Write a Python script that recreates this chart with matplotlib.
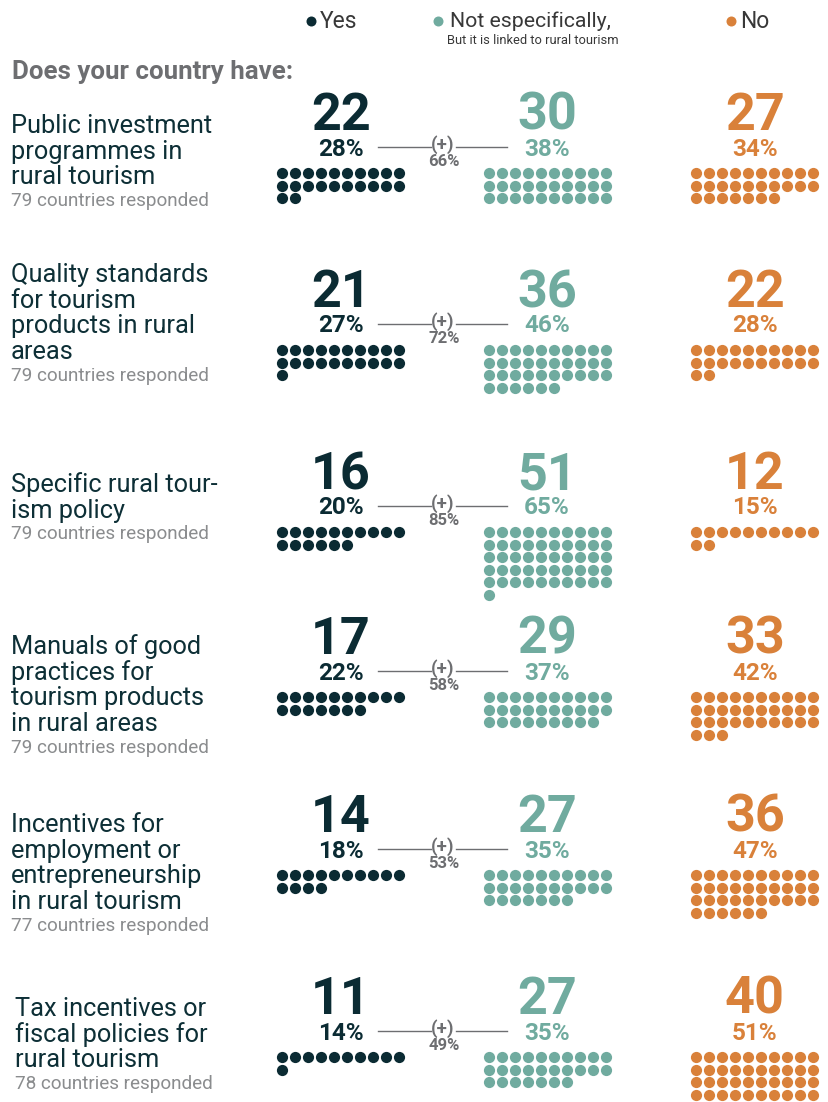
import matplotlib.pyplot as plt

plt.rcParams['font.family'] = ['Roboto', 'DejaVu Sans']

# survey answers, one entry per question
questions = [
    ["Public investment", "programmes in", "rural tourism"],
    ["Quality standards", "for tourism", "products in rural", "areas"],
    ["Specific rural tour-", "ism policy"],
    ["Manuals of good", "practices for", "tourism products", "in rural areas"],
    ["Incentives for", "employment or", "entrepreneurship", "in rural tourism"],
    ["Tax incentives or", "fiscal policies for", "rural tourism"],
]
responded = [79, 79, 79, 79, 77, 78]
yes_counts = [22, 21, 16, 17, 14, 11]
not_counts = [30, 36, 51, 29, 27, 27]
no_counts = [27, 22, 12, 33, 36, 40]
yes_pct = [28, 27, 20, 22, 18, 14]
not_pct = [38, 46, 65, 37, 35, 35]
no_pct = [34, 28, 15, 42, 47, 51]
combined_pct = [66, 72, 85, 58, 53, 49]

# colours
c_yes = '#0b2b33'
c_not = '#70ab9f'
c_no = '#d9813a'
c_grey = '#6d6e71'
c_light = '#8a8c8e'
c_label = '#0d2f36'

# layout (pixel space)
row_base = [130, 307, 489, 654, 832, 1014]   # baseline of the big numbers
label_first = [126, 275, 485, 647, 825, 1009]  # centre of first label line
label_x = [11, 11, 11, 11, 11, 15]
num_x = [341, 547, 755]
dot_x0 = [282.5, 489, 696.5]
dot_dx = 13.0
dot_dy = 12.6
dot_size = (11.2 * 0.72) ** 2

fig = plt.figure(figsize=(8.29, 11.02), dpi=100)
ax = fig.add_axes([0, 0, 1, 1])
ax.set_xlim(0, 829)
ax.set_ylim(1102, 0)
ax.axis('off')

# header / legend
legend_items = [(311, 320, 'Yes', c_yes, 16.5), (438, 450, 'Not especifically,', c_not, 15.3),
                (731, 740, 'No', c_no, 16.5)]
for bx, tx, txt, col, fs in legend_items:
    ax.scatter([bx], [20.5], s=(10 * 0.72) ** 2, color=col, linewidths=0)
    ax.text(tx, 21, txt, color='#383838', fontsize=fs, ha='left', va='center')
ax.text(447, 40, 'But it is linked to rural tourism', color='#383838', fontsize=9.3,
        ha='left', va='center')
ax.text(12, 71.5, 'Does your country have:', color=c_grey, fontsize=18.6,
        fontweight='bold', ha='left', va='center')

for i in range(len(questions)):
    base = row_base[i]
    # question label
    for j, line in enumerate(questions[i]):
        ax.text(label_x[i], label_first[i] + j * 25.7, line, color=c_label, fontsize=18.3,
                ha='left', va='center')
    ax.text(label_x[i], label_first[i] + len(questions[i]) * 25.7 - 2,
            f'{responded[i]} countries responded', color=c_light, fontsize=13.6,
            ha='left', va='center')

    counts = [yes_counts[i], not_counts[i], no_counts[i]]
    pcts = [yes_pct[i], not_pct[i], no_pct[i]]
    for k, col in enumerate([c_yes, c_not, c_no]):
        ax.text(num_x[k], base, str(counts[k]), color=col, fontsize=37.5,
                fontweight='bold', ha='center', va='baseline')
        ax.text(num_x[k], base + 19, f'{pcts[k]}%', color=col, fontsize=17.5,
                fontweight='bold', ha='center', va='center')
        xs = [dot_x0[k] + (n % 10) * dot_dx for n in range(counts[k])]
        ys = [base + 43 + (n // 10) * dot_dy for n in range(counts[k])]
        ax.scatter(xs, ys, s=dot_size, color=col, linewidths=0)

    # connector between yes and not-specifically
    ax.plot([378, 431], [base + 17, base + 17], color=c_grey, lw=1)
    ax.plot([456, 507], [base + 17, base + 17], color=c_grey, lw=1)
    ax.text(443, base + 15, '(+)', color=c_grey, fontsize=13.5, fontweight='bold',
            ha='center', va='center')
    ax.text(444, base + 31.5, f'{combined_pct[i]}%', color=c_grey, fontsize=12,
            fontweight='bold', ha='center', va='center')

fig.savefig('out.png', dpi=100)
